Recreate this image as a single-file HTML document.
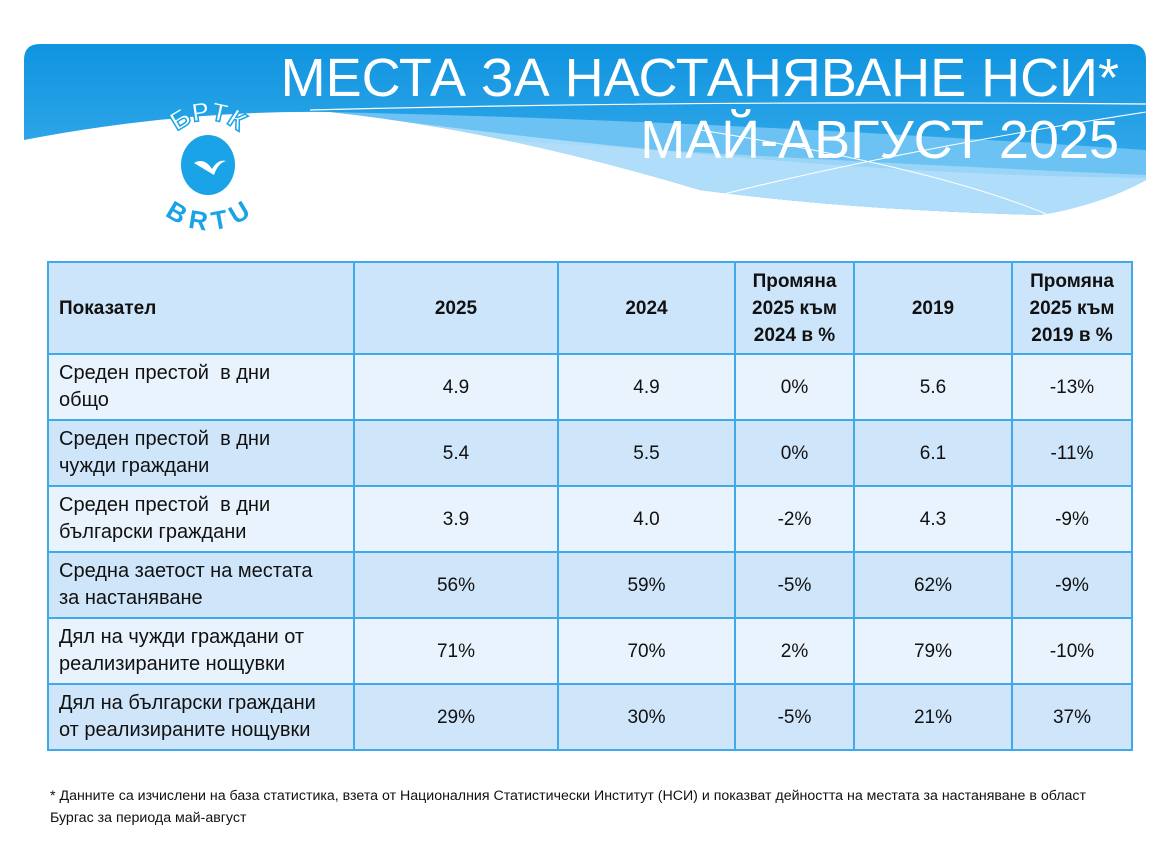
<!DOCTYPE html>
<html><head><meta charset="utf-8"><style>
body{margin:0;width:1157px;height:858px;background:#fff;position:relative;overflow:hidden;font-family:"Liberation Sans",sans-serif}
.t{position:absolute;right:38px;color:#fff;font-size:54px;white-space:nowrap;line-height:60px}
table{position:absolute;left:47px;top:261px;border-collapse:collapse;table-layout:fixed}
td{border:2px solid #3fa9e9;font-size:19px;color:#111;text-align:center;padding:0 10px;line-height:27px}
td:first-child{text-align:left;font-size:20px}
tr.h td{background:#cde5fb;font-weight:bold;height:90px}
tr.h td:first-child{font-size:19px}
tr.a td{background:#e9f3fd;height:64px}
tr.b td{background:#cfe5fa;height:64px}
.fn{position:absolute;left:50px;top:785px;font-size:14.2px;line-height:22px;color:#111;width:1090px}
</style></head><body>
<svg width="1157" height="240" style="position:absolute;left:0;top:0">
<defs>
<linearGradient id="g" x1="0" y1="0" x2="0" y2="1"><stop offset="0" stop-color="#0f94e0"/><stop offset="1" stop-color="#4db6ef"/></linearGradient>
<clipPath id="c"><path d="M40 44 H1130 Q1146 44 1146 60 V180 Q1100 205 1040 215 Q850 210 700 190 Q500 130 330 112 Q180 110 24 140 V60 Q24 44 40 44Z"/></clipPath>
<path id="top" d="M163 165 A45 45 0 0 1 253 165"/>
<path id="bot" d="M158 160 A50 50 0 0 0 258 160"/>
</defs>
<g clip-path="url(#c)">
<rect x="24" y="44" width="1122" height="200" fill="url(#g)"/>
<path d="M330 112 Q700 120 1146 150 V240 H330Z" fill="#6cc3f3"/>
<path d="M500 140 Q800 160 1146 175 V240 H500Z" fill="#9ad5f7"/>
<path d="M330 112 Q800 175 1146 178 V240 H330Z" fill="#b5e0fa" opacity=".8"/>
<path d="M310 110 Q700 100 1146 104" stroke="#fff" fill="none" stroke-width="1.2"/>
<path d="M720 195 Q900 150 1146 112" stroke="#fff" fill="none" stroke-width="1"/>
<path d="M700 130 Q950 170 1060 220" stroke="#fff" fill="none" stroke-width="1"/>
</g>
<g>
<ellipse cx="208" cy="165" rx="27" ry="30" fill="#1aa3e6"/>
<path d="M194 163 q10 -6 18 6 q6 -10 14 -8 q-8 2 -12 14 z" fill="#fff"/>
<text font-size="26" font-weight="bold" fill="#fff" stroke="#1aa3e6" stroke-width="1.5"><textPath href="#top" startOffset="50%" text-anchor="middle">БРТК</textPath></text>
<text font-size="26" font-weight="bold" fill="#1aa3e6" dy="20"><textPath href="#bot" startOffset="50%" text-anchor="middle">BRTU</textPath></text>
</g>
</svg>
<div class="t" style="top:48px">МЕСТА ЗА НАСТАНЯВАНЕ НСИ*</div>
<div class="t" style="top:110px">МАЙ-АВГУСТ 2025</div>
<table>
<colgroup><col style="width:306px"><col style="width:204px"><col style="width:177px"><col style="width:119px"><col style="width:158px"><col style="width:120px"></colgroup>
<tr class="h"><td>Показател</td><td>2025</td><td>2024</td><td>Промяна 2025 към 2024 в %</td><td>2019</td><td>Промяна 2025 към 2019 в %</td></tr>
<tr class="a"><td>Среден престой &nbsp;в дни<br>общо</td><td>4.9</td><td>4.9</td><td>0%</td><td>5.6</td><td>-13%</td></tr>
<tr class="b"><td>Среден престой &nbsp;в дни<br>чужди граждани</td><td>5.4</td><td>5.5</td><td>0%</td><td>6.1</td><td>-11%</td></tr>
<tr class="a"><td>Среден престой &nbsp;в дни<br>български граждани</td><td>3.9</td><td>4.0</td><td>-2%</td><td>4.3</td><td>-9%</td></tr>
<tr class="b"><td>Средна заетост на местата<br>за настаняване</td><td>56%</td><td>59%</td><td>-5%</td><td>62%</td><td>-9%</td></tr>
<tr class="a"><td>Дял на чужди граждани от<br>реализираните нощувки</td><td>71%</td><td>70%</td><td>2%</td><td>79%</td><td>-10%</td></tr>
<tr class="b"><td>Дял на български граждани<br>от реализираните нощувки</td><td>29%</td><td>30%</td><td>-5%</td><td>21%</td><td>37%</td></tr>
</table>
<div class="fn">* Данните са изчислени на база статистика, взета от Националния Статистически Институт (НСИ) и показват дейността на местата за настаняване в област<br>Бургас за периода май-август</div>
</body></html>
